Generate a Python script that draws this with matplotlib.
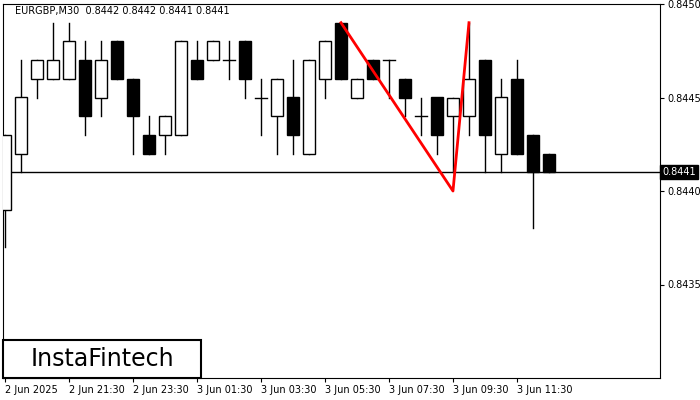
import matplotlib
matplotlib.use("Agg")
import matplotlib.pyplot as plt
from matplotlib.patches import Rectangle

def p(y):
    return round(0.8450 - (y - 4) * 0.001 / 187.0, 5)

# open, high, low, close in pixel-read form converted to prices
opens_px  = [210,154,78,78,78,60,97,42,78,135,135,135,60,60,60,42,97,117,97,154,78,22,97,60,60,78,117,97,117,117,60,154,78,135,154]
closes_px = [135,97,60,60,42,117,60,78,117,154,117,42,78,42,60,78,97,78,135,60,42,78,78,78,60,97,117,135,97,78,135,97,154,172,172]
highs_px  = [135,60,60,22,22,42,42,42,78,117,117,42,42,42,42,42,78,78,60,60,42,22,78,60,60,78,97,97,97,22,60,78,60,135,154]
lows_px   = [247,172,97,78,78,135,117,78,154,154,154,135,78,60,78,97,135,154,154,154,97,78,97,78,97,117,135,154,172,135,172,172,154,228,172]
opens = [p(v) for v in opens_px]
closes = [p(v) for v in closes_px]
highs = [p(v) for v in highs_px]
lows = [p(v) for v in lows_px]
tick_idx = [0,4,8,12,16,20,24,28,32]
tick_labels = ["2 Jun 2025","2 Jun 21:30","2 Jun 23:30","3 Jun 01:30","3 Jun 03:30",
               "3 Jun 05:30","3 Jun 07:30","3 Jun 09:30","3 Jun 11:30"]
pattern_x = [21, 28, 29]
pattern_y = [0.84490, 0.84400, 0.84490]
last_price = 0.8441
yticks = [0.8435, 0.8440, 0.8445, 0.8450]

fig = plt.figure(figsize=(7, 4), dpi=100)
ax = fig.add_axes([3/700, 22/400, 657/700, 374/400])
for i,(o,h,l,c) in enumerate(zip(opens,highs,lows,closes)):
    ax.plot([i,i],[l,h],color="black",lw=1,zorder=2)
    lo, hi = min(o,c), max(o,c)
    if abs(hi-lo) < 1e-6:
        ax.plot([i-0.4,i+0.4],[o,o],color="black",lw=1,zorder=3)
    else:
        ax.add_patch(Rectangle((i-0.4,lo),0.8,hi-lo,facecolor="black" if c<o else "white",
                               edgecolor="black",lw=1,zorder=3))
ax.axhline(last_price,color="black",lw=1,zorder=1)
ax.plot(pattern_x,pattern_y,color="red",lw=2,zorder=4)
ax.set_xlim(-0.125, 40.94)
ax.set_ylim(0.84300, 0.84500)
ax.set_xticks(tick_idx)
ax.set_xticklabels(tick_labels, ha="left", fontsize=7)
ax.yaxis.tick_right()
ax.set_yticks(yticks)
ax.set_yticklabels([f"{v:.4f}" for v in yticks], fontsize=7)
ax.tick_params(length=3, pad=2)
ax.text(last_price and 1.003, last_price, f"{last_price:.4f}", transform=ax.get_yaxis_transform(),
        color="white", fontsize=7, va="center", ha="left",
        bbox=dict(facecolor="black", edgecolor="black", pad=1.5))
ax.text(0.018, 0.995, "EURGBP,M30  0.8442 0.8442 0.8441 0.8441", transform=ax.transAxes,
        fontsize=7, va="top", ha="left")
fig.patches.append(Rectangle((3/700, 22/400), 198/700, 38/400, transform=fig.transFigure,
                             facecolor="white", edgecolor="black", lw=1.5, zorder=5))
fig.text(102/700, 41/400, "InstaFintech", fontsize=17, ha="center", va="center", zorder=6)
fig.savefig("out.png", dpi=100)
